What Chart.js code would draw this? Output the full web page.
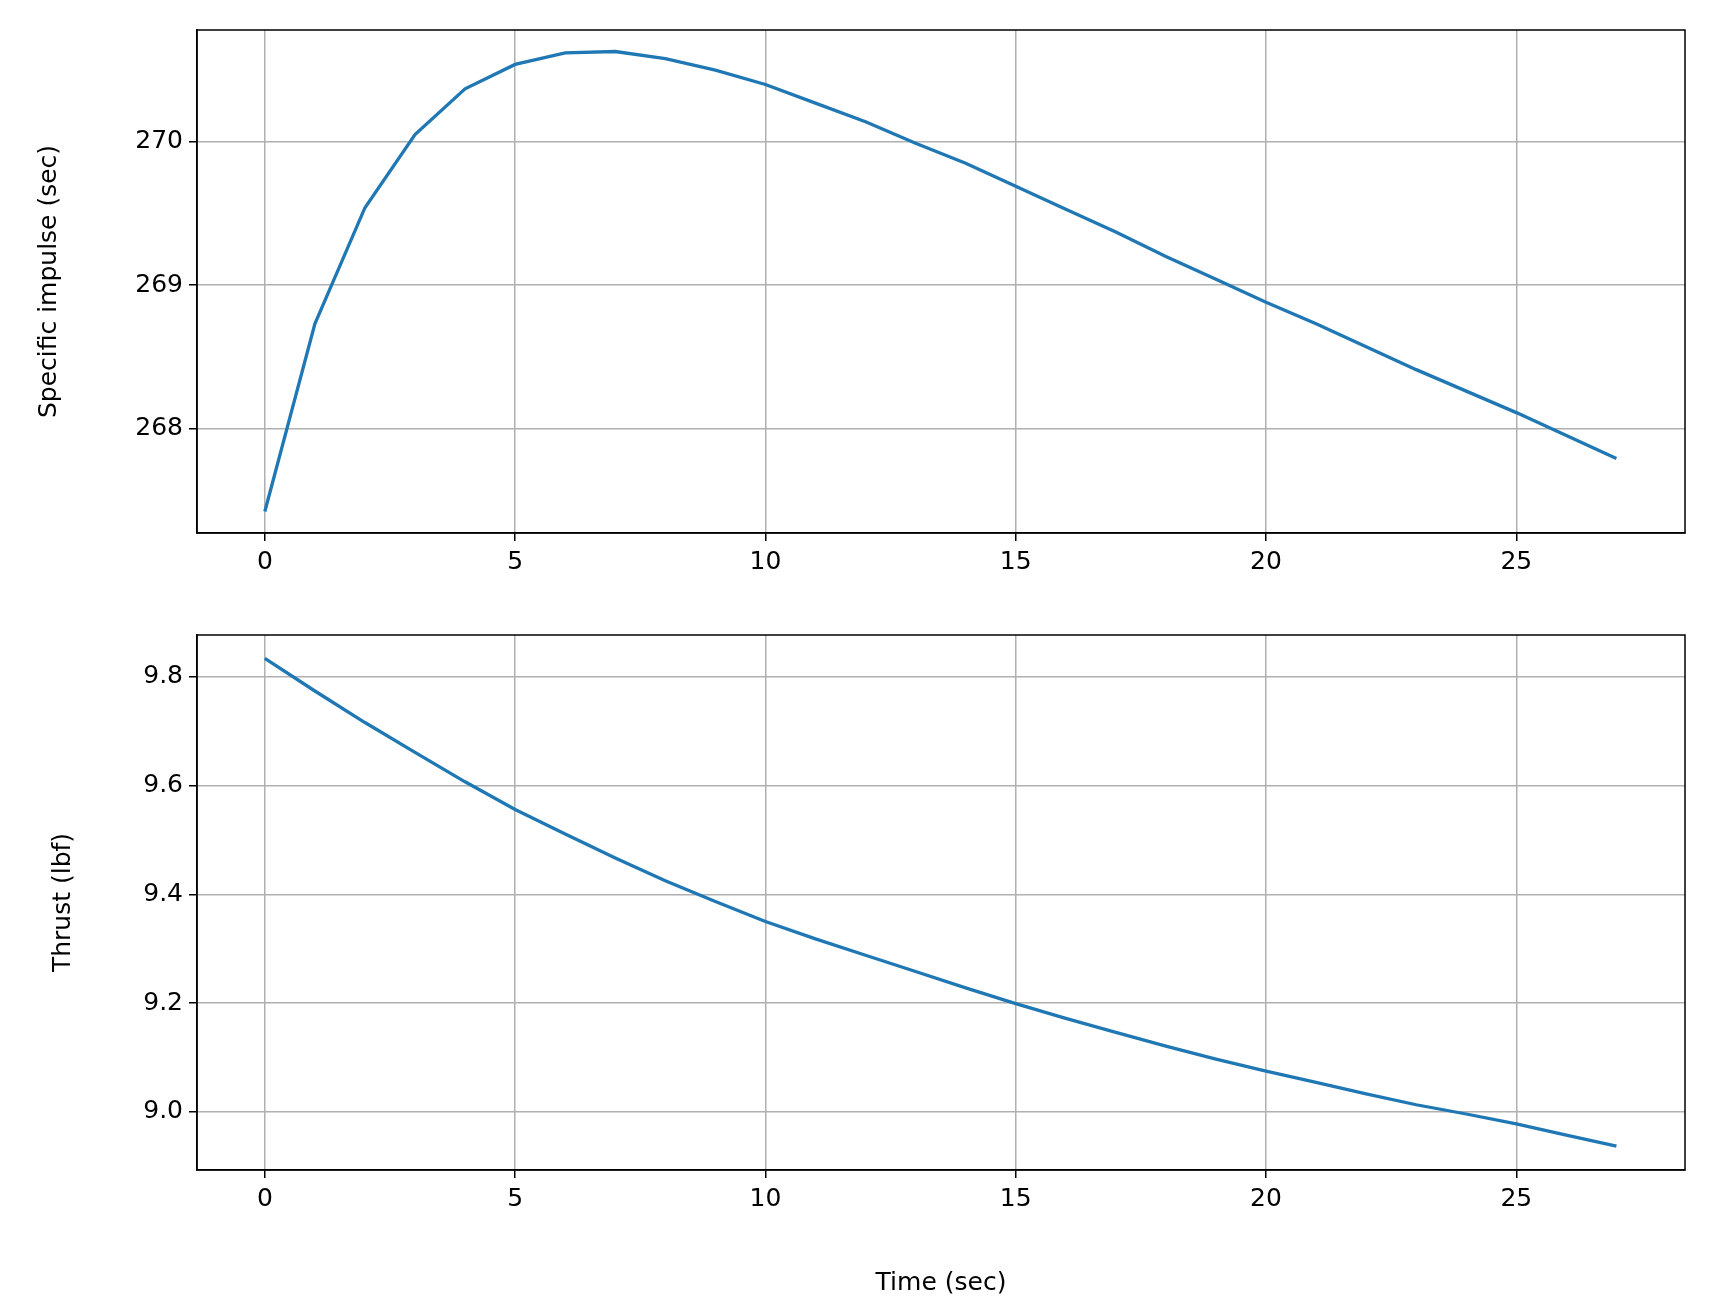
<!DOCTYPE html>
<html><head><script src="https://cdn.jsdelivr.net/npm/chart.js@4"></script>
<style>body{margin:0;background:#fff;width:1715px;height:1298px;position:relative}
.c{position:absolute;left:0;width:1715px}</style></head>
<body>
<div class="c" style="top:0;height:600px"><canvas id="a"></canvas></div>
<div class="c" style="top:600px;height:698px"><canvas id="b"></canvas></div>
<script>
const time = Array.from({length:28},(_,i)=>i);
const isp = [267.42,268.73,269.54,270.05,270.37,270.54,270.62,270.63,270.58,270.50,270.40,270.27,270.14,269.99,269.85,269.69,269.53,269.37,269.20,269.04,268.88,268.73,268.57,268.41,268.26,268.11,267.95,267.79];
const thrust = [9.834,9.774,9.716,9.661,9.607,9.556,9.511,9.467,9.425,9.387,9.350,9.318,9.288,9.258,9.228,9.199,9.172,9.146,9.121,9.097,9.075,9.054,9.033,9.013,8.996,8.978,8.957,8.937];
const xTicks = [0,5,10,15,20,25];
const font = {family:'DejaVu Sans', size:25};
const frame = {id:'frame', afterDraw(c){const a=c.chartArea,x=c.ctx;x.save();x.strokeStyle='#000';x.lineWidth=1.5;x.strokeRect(a.left,a.top,a.right-a.left,a.bottom-a.top);x.restore();}};
function make(id, vals, ymin, ymax, ystep, ylabel, xtitle, xh, yl, ytickfmt){
  new Chart(document.getElementById(id), {
    type:'line',
    data:{datasets:[{data:time.map((t,i)=>({x:t,y:vals[i]})), borderColor:'#1f77b4', borderWidth:3.3, pointRadius:0, tension:0}]},
    plugins:[frame],
    options:{responsive:true, maintainAspectRatio:false, animation:false,
      layout:{padding:{top:id==='a'?30:35,right:30,left:yl,bottom:0}},
      plugins:{legend:{display:false},tooltip:{enabled:false}},
      scales:{
        x:{type:'linear', min:-1.355, max:28.37,
          afterBuildTicks:s=>{s.ticks=xTicks.map(v=>({value:v}));},
          afterFit:s=>{s.height=xh;},
          grid:{color:'#b0b0b0',lineWidth:1.5,tickLength:8,tickColor:'#000'},
          border:{color:'#000',width:1.5},
          ticks:{color:'#000',font,padding:6,maxRotation:0},
          title:{display:!!xtitle,text:xtitle,color:'#000',font,padding:{top:8,bottom:0}}},
        y:{min:ymin,max:ymax,
          afterBuildTicks:s=>{const t=[];for(let v=Math.ceil(ymin/ystep)*ystep;v<=ymax+1e-9;v+=ystep)t.push({value:+v.toFixed(3)});s.ticks=t;},
          afterFit:s=>{s.width=197-yl;},
          grid:{color:'#b0b0b0',lineWidth:1.5,tickLength:8,tickColor:'#000'},
          border:{color:'#000',width:1.5},
          ticks:{color:'#000',font,padding:6,callback:ytickfmt},
          title:{display:true,text:ylabel,color:'#000',font,padding:{bottom:0}}}
      }}
  });
}
make('a', isp, 267.27, 270.78, 1, 'Specific impulse (sec)', '', 67, 30, v=>v.toFixed(0));
make('b', thrust, 8.893, 9.877, 0.2, 'Thrust (lbf)', 'Time (sec)', 128, 44, v=>v.toFixed(1));
</script></body></html>
